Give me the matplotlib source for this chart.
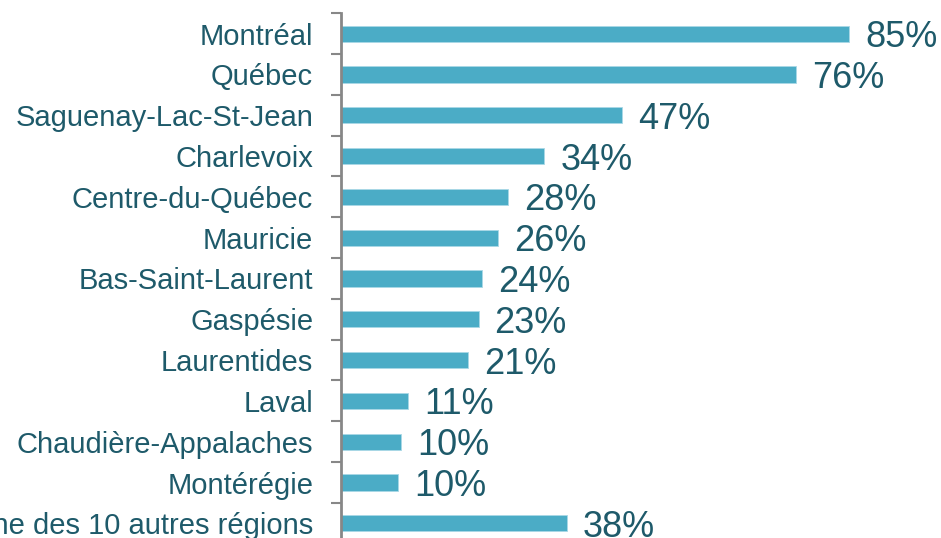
import numpy as np
import matplotlib.pyplot as plt

regions = ['Montréal', 'Québec', 'Saguenay-Lac-St-Jean', 'Charlevoix',
           'Centre-du-Québec', 'Mauricie', 'Bas-Saint-Laurent', 'Gaspésie',
           'Laurentides', 'Laval', 'Chaudière-Appalaches', 'Montérégie',
           'Moyenne des 10 autres régions']
valeurs = [85, 76, 47, 34, 28, 26.2, 23.6, 23, 21.2, 11.2, 10, 9.6, 37.7]

bleu = '#4bacc6'
texte = '#1e5a6a'
gris = '#878787'

plt.rcParams['font.family'] = ['Liberation Sans', 'DejaVu Sans']

fig = plt.figure(figsize=(9.41, 5.38), dpi=100)
ax = fig.add_axes([341 / 941, -0.0106, 600 / 941, 0.9859])

y = np.arange(len(regions))
ax.barh(y, valeurs, height=0.4, color=bleu, edgecolor='#a9d8e6', linewidth=0.6)

for yi, v in zip(y, valeurs):
    ax.annotate('{:.0f}%'.format(v), (v, yi), xytext=(16, -13.5),
                textcoords='offset pixels', va='baseline', ha='left',
                fontsize=26, color=texte)

ax.set_xlim(0, 100.3)
ax.set_ylim(len(regions) - 0.5, -0.5)

ax.set_yticks(y)
ax.set_yticklabels(regions, fontsize=21, color=texte)
ax.tick_params(axis='y', which='major', length=0, pad=20)
ax.set_yticks(np.arange(len(regions) + 1) - 0.5, minor=True)
ax.tick_params(axis='y', which='minor', length=7, width=1.5, color=gris)
ax.set_xticks([])

for side in ['top', 'right', 'bottom']:
    ax.spines[side].set_visible(False)
ax.spines['left'].set_color(gris)
ax.spines['left'].set_linewidth(2)

fig.savefig('out.png', dpi=100)
